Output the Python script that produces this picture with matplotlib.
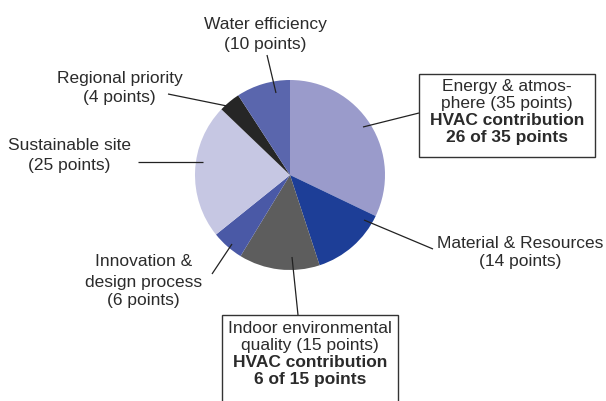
import matplotlib
matplotlib.use('Agg')
import matplotlib.pyplot as plt
from matplotlib.patches import Rectangle

categories = ["Energy & atmosphere", "Material & Resources", "Indoor environmental quality",
              "Innovation & design process", "Sustainable site", "Regional priority", "Water efficiency"]
points = [35, 14, 15, 6, 25, 4, 10]
colors = ["#9a9bcb", "#1d3e97", "#5d5d5d", "#4a59a6", "#c6c7e3", "#262626", "#5a66ad"]

W, H = 606, 401
fig = plt.figure(figsize=(W / 100, H / 100), dpi=100)
ax = fig.add_axes([0, 0, 1, 1])

def Y(py):
    return H - py

ax.pie(points, colors=colors, startangle=90, counterclock=False,
       center=(290, Y(175)), radius=95, frame=True,
       wedgeprops=dict(linewidth=0))
ax.set_xlim(0, W)
ax.set_ylim(0, H)
ax.set_aspect('equal')
ax.axis('off')

FONT = ['Liberation Sans', 'DejaVu Sans']
FS = 12.5
TC = '#2b2b2b'

def lines(x, baselines, texts, weights=None):
    for i, (b, t) in enumerate(zip(baselines, texts)):
        w = weights[i] if weights else 'normal'
        ax.text(x, Y(b), t, ha='center', va='baseline', fontsize=FS,
                family=FONT, color=TC, fontweight=w)

def leader(p0, p1):
    ax.plot([p0[0], p1[0]], [Y(p0[1]), Y(p1[1])], color='#222222', lw=0.9,
            solid_capstyle='butt')

# Water efficiency
lines(265, [28.5, 49], ["Water efficiency", f"({points[6]} points)"])
leader((267, 55), (276, 93))
# Regional priority
lines(119.5, [83.5, 102], ["Regional priority", f"({points[5]} points)"])
leader((168, 94), (227, 106))
# Sustainable site
lines(69, [150, 170], ["Sustainable site", f"({points[4]} points)"])
leader((138, 162), (203, 162))
# Innovation
lines(143.5, [266.5, 286.5, 305], ["Innovation &", "design process", f"({points[3]} points)"])
leader((212, 274), (232, 244))
# Material
lines(520, [248, 266], ["Material & Resources", f"({points[1]} points)"])
leader((364, 220), (433, 249))

# Energy box
ax.add_patch(Rectangle((419, Y(157)), 176, 83, fill=False, ec='#333333', lw=1))
lines(507, [91, 108, 125, 142],
      ["Energy & atmos-", f"phere ({points[0]} points)", "HVAC contribution", f"26 of {points[0]} points"],
      ['normal', 'normal', 'bold', 'bold'])
leader((363, 127), (419, 113))

# Indoor box
ax.add_patch(Rectangle((222, Y(420)), 176, 105, fill=False, ec='#333333', lw=1, clip_on=True))
lines(310, [333, 350, 367, 384],
      ["Indoor environmental", f"quality ({points[2]} points)", "HVAC contribution", f"6 of {points[2]} points"],
      ['normal', 'normal', 'bold', 'bold'])
leader((292, 257), (298, 315))

fig.savefig('out.png', dpi=100)
